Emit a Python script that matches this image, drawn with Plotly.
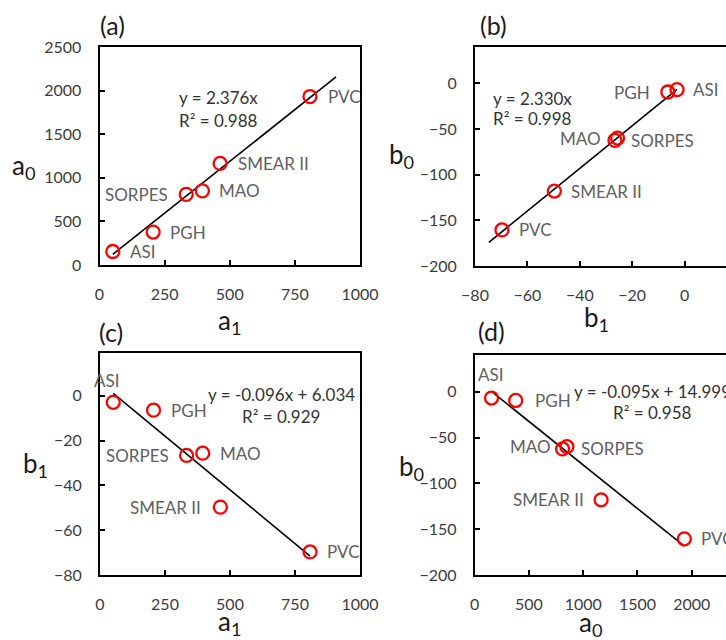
import plotly.graph_objects as go

# ---------------- data ----------------
sites = ["ASI", "PGH", "SORPES", "MAO", "SMEAR II", "PVC"]
a1 = [51, 206, 333, 395, 463, 808]
a0 = [155, 378, 810, 850, 1165, 1932]
b1 = [-2.9, -6.4, -26.6, -25.6, -49.7, -69.7]
b0 = [-7.0, -9.6, -62.5, -60.0, -118.0, -160.5]

# trendline coefficients shown on the chart: (slope, intercept, R2)
fit_a = (2.376, 0.0, 0.988)
fit_b = (2.330, 0.0, 0.998)
fit_c = (-0.096, 6.034, 0.929)
fit_d = (-0.095, 14.999, 0.958)

eq_a = ["y = 2.376x", "R² = 0.988"]
eq_b = ["y = 2.330x", "R² = 0.998"]
eq_c = ["y = -0.096x + 6.034", "R² = 0.929"]
eq_d = ["y = -0.095x + 14.999", "R² = 0.958"]

a1_ticks = [0, 250, 500, 750, 1000]
a0_ticks_y = [0, 500, 1000, 1500, 2000, 2500]
b1_ticks_x = [-80, -60, -40, -20, 0]
b0_ticks_y = [-200, -150, -100, -50, 0]
b1_ticks_y = [-80, -60, -40, -20, 0]
a0_ticks_x = [0, 500, 1000, 1500, 2000]

# ---------------- layout helpers ----------------
W, H = 726, 640
FONT = "Lato, 'Open Sans', sans-serif"
TICK_COL = "#3c3c3c"
LAB_COL = "#606060"
EQ_COL = "#333333"


def px(x):
    return x / W


def py(y):
    return 1 - y / H


fig = go.Figure()

panels = [
    dict(ax="", x=a1, y=a0, fit=fit_a, ext=(0, 100),
         xd=[px(99.5), px(360)], yd=[py(265), py(47)],
         xr=[0, 1000], yr=[0, 2500], xt=a1_ticks, yt=a0_ticks_y,
         mirror_y=True,
         lab=[("l", 15, 0), ("l", 15, 0), ("r", -16, 0), ("l", 15, 0), ("l", 16, 0), ("l", 16, 0)]),
    dict(ax="2", x=b1, y=b0, fit=fit_b, ext=(5, 0),
         xd=[px(475), 1.0], yd=[py(266), py(46.7)],
         xr=[-80, 15.8], yr=[-200, 40], xt=b1_ticks_x, yt=b0_ticks_y,
         mirror_y=False,
         lab=[("l", 14, 0), ("r", -16, 0), ("l", 14, 0), ("r", -15, 0), ("l", 15, 0), ("l", 15, 0)]),
    dict(ax="3", x=a1, y=b1, fit=fit_c, ext=(0, 0),
         xd=[px(100), px(360)], yd=[py(575), py(353.3)],
         xr=[0, 1000], yr=[-80, 19], xt=a1_ticks, yt=b1_ticks_y,
         mirror_y=True,
         lab=[("c", -6, 22), ("l", 15, 0), ("r", -16, 0), ("l", 15, 0), ("r", -17, 0), ("l", 15, 0)]),
    dict(ax="4", x=a0, y=b0, fit=fit_d, ext=(0, 0),
         xd=[px(474.7), 1.0], yd=[py(575), py(355)],
         xr=[0, 2316], yr=[-200, 40], xt=a0_ticks_x, yt=b0_ticks_y,
         mirror_y=False,
         lab=[("c", -1, 24), ("l", 17, 0), ("l", 16, 0), ("r", -14, 0), ("r", -15, 0), ("l", 15, 0)]),
]

annotations = []
for p in panels:
    xa = "x" + p["ax"]
    ya = "y" + p["ax"]
    slope, icpt, _ = p["fit"]
    x0 = min(p["x"]) - p["ext"][0]
    x1 = max(p["x"]) + p["ext"][1]
    fig.add_trace(go.Scatter(
        x=[x0, x1], y=[slope * x0 + icpt, slope * x1 + icpt],
        mode="lines", line=dict(color="black", width=1.6),
        xaxis=xa, yaxis=ya, showlegend=False, hoverinfo="skip"))
    fig.add_trace(go.Scatter(
        x=p["x"], y=p["y"], mode="markers",
        marker=dict(symbol="circle-open", size=13, color="#ff0000",
                    line=dict(width=2.3, color="#ff0000")),
        xaxis=xa, yaxis=ya, showlegend=False, text=sites))
    for name, xv, yv, (anc, dx, dy) in zip(sites, p["x"], p["y"], p["lab"]):
        annotations.append(dict(
            x=xv, y=yv, xref=xa, yref=ya, text=name, showarrow=False,
            xanchor={"l": "left", "r": "right", "c": "center"}[anc],
            yanchor="middle", xshift=dx, yshift=dy,
            font=dict(family=FONT, size=17, color=LAB_COL)))
    axis_common = dict(
        showline=True, linecolor="black", linewidth=2,
        ticks="inside", ticklen=5, tickwidth=1.5, tickcolor="black",
        showgrid=False, zeroline=False, automargin=False,
        tickfont=dict(family=FONT, size=16, color=TICK_COL),
    )
    fig.update_layout(**{
        "xaxis" + p["ax"]: dict(axis_common, domain=p["xd"], range=p["xr"],
                                tickvals=p["xt"], anchor=ya, mirror=True,
                                ticklabelstandoff=14),
        "yaxis" + p["ax"]: dict(axis_common, domain=p["yd"], range=p["yr"],
                                tickvals=p["yt"], anchor=xa, mirror=p["mirror_y"],
                                ticklabelstandoff=13),
    })

# equations (two lines each)
eq_specs = [
    (eq_a, px(177), py(98), py(120), "left"),
    (eq_b, px(491), py(99), py(119), "left"),
    (eq_c, px(281), py(394), py(416), "center"),
    (eq_d, px(652), py(391), py(412), "center"),
]
for lines, x, y1, y2, anc in eq_specs:
    for txt, yy in zip(lines, [y1, y2]):
        annotations.append(dict(x=x, y=yy, xref="paper", yref="paper", text=txt,
                                showarrow=False, xanchor=anc, yanchor="middle",
                                font=dict(family=FONT, size=17, color=EQ_COL)))

# panel letters
for txt, x, y in [("(a)", 112, 25), ("(b)", 493, 25), ("(c)", 111, 332), ("(d)", 491, 331)]:
    annotations.append(dict(x=px(x), y=py(y), xref="paper", yref="paper", text=txt,
                            showarrow=False, xanchor="center", yanchor="middle",
                            font=dict(family=FONT, size=25, color="#1a1a1a")))

# axis titles
for txt, x, y in [("a<sub>0</sub>", 24, 166), ("a<sub>1</sub>", 230, 321),
                  ("b<sub>0</sub>", 401, 155), ("b<sub>1</sub>", 596, 318),
                  ("b<sub>1</sub>", 35, 464), ("a<sub>1</sub>", 230, 622),
                  ("b<sub>0</sub>", 411, 467), ("a<sub>0</sub>", 591, 623)]:
    annotations.append(dict(x=px(x), y=py(y), xref="paper", yref="paper", text=txt,
                            showarrow=False, xanchor="center", yanchor="middle",
                            font=dict(family=FONT, size=26, color="#1a1a1a")))

fig.update_layout(
    width=W, height=H,
    margin=dict(l=0, r=0, t=0, b=0, pad=0, autoexpand=False),
    paper_bgcolor="white", plot_bgcolor="white",
    annotations=annotations,
    showlegend=False,
)

fig.write_html(
    "out.html",
    config={"displayModeBar": False},
    post_script="document.body.style.margin='0px';document.body.style.overflow='hidden';",
)
